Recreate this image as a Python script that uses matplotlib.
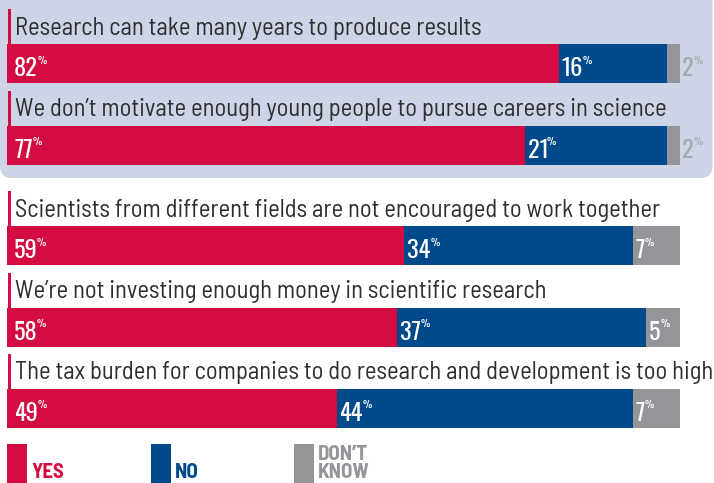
import matplotlib
matplotlib.use("Agg")
import matplotlib.pyplot as plt
from matplotlib.patches import FancyBboxPatch, Rectangle
from matplotlib.textpath import TextPath
from matplotlib.font_manager import FontProperties

# ---- data ----
statements = [
    "Research can take many years to produce results",
    "We don\u2019t motivate enough young people to pursue careers in science",
    "Scientists from different fields are not encouraged to work together",
    "We\u2019re not investing enough money in scientific research",
    "The tax burden for companies to do research and development is too high",
]
yes = [82, 77, 59, 58, 49]
no = [16, 21, 34, 37, 44]
dont_know = [2, 2, 7, 5, 7]
legend_labels = ["YES", "NO", "DON\u2019T\nKNOW"]

# ---- style ----
RED = "#D30C42"
BLUE = "#004A8C"
GRAY = "#939598"
BOX = "#CDD4E6"
TXT = "#2E2E2E"
LABEL_FONT = "Barlow Semi Condensed"
NUM_FONT = "Oswald"
LEG_FONT = "Barlow Semi Condensed"

W, H = 714, 483
fig = plt.figure(figsize=(W / 100, H / 100), dpi=100)
PX0, PX100 = 7, 680          # pixel x of 0% and 100%
scale = (PX100 - PX0) / 100.0
ax = fig.add_axes([0, 0, 1, 1])
ax.set_xlim(-PX0 / scale, (W - PX0) / scale)
ax.set_ylim(H, 0)
ax.axis("off")
ax.patch.set_visible(False)

def px(v):  # pixel offset -> data units in x
    return v / scale

# highlighted box behind the first two statements (display coords)
box = FancyBboxPatch((0, H - 178), W - 1.5, 200, boxstyle="round,pad=0,rounding_size=12",
                     transform=None, facecolor=BOX, edgecolor="none", zorder=-5)
fig.patches.append(box)

bar_h = 39
step, gap = 81.5, 19
ys = [63.5 + step * i + (gap if i >= 2 else 0) for i in range(len(statements))]

ax.barh(ys, yes, height=bar_h, color=RED, zorder=2)
ax.barh(ys, no, left=yes, height=bar_h, color=BLUE, zorder=2)
left_dk = [a + b for a, b in zip(yes, no)]
ax.barh(ys, dont_know, left=left_dk, height=bar_h, color=GRAY, zorder=2)

NUM_SIZE = 17.5
PCT_SIZE = 7.5
DIGIT_H = 21
num_prop = FontProperties(family=NUM_FONT, weight="medium", size=NUM_SIZE)
pct_prop = FontProperties(family=NUM_FONT, size=PCT_SIZE)
pct_lb = TextPath((0, 0), "%", prop=pct_prop).get_extents().x0 * 100 / 72

def pct_label(x, y, value, color):
    s = f"{value}"
    ext = TextPath((0, 0), s, prop=num_prop).get_extents()
    ink_l = ext.x0 * 100 / 72
    ink_r = ext.x1 * 100 / 72
    x_text = round(x * scale) / scale - px(ink_l)
    ax.text(x_text, y, s, color=color, fontproperties=num_prop,
            ha="left", va="baseline", zorder=3)
    ax.text(x_text + px(ink_r + 1.0 - pct_lb), y - DIGIT_H + 0.5, "%", color=color,
            fontproperties=pct_prop, ha="left", va="top", zorder=3)

for i, (s, y) in enumerate(zip(statements, ys)):
    top = y - bar_h / 2
    ax.text(px(8), top - 9.5, s, color=TXT, fontsize=17.7, family=LABEL_FONT,
            ha="left", va="baseline", zorder=3)
    ax.add_patch(Rectangle((px(1), top - 35), px(3), 35, facecolor=RED,
                           edgecolor="none", zorder=3))
    base = y + 12.5
    pct_label(px(8), base, yes[i], "white")
    pct_label(yes[i] + px(3.5), base, no[i], "white")
    if dont_know[i] >= 4:
        pct_label(left_dk[i] + px(3.5), base, dont_know[i], "white")
    else:
        pct_label(100 + px(3), base, dont_know[i], "#A7A9AC")

# legend
leg_colors = [RED, BLUE, GRAY]
leg_x = [7, 151, 294]
for lab, c, lx in zip(legend_labels, leg_colors, leg_x):
    ax.add_patch(Rectangle(((lx - PX0) / scale, 444), px(20), 40, facecolor=c,
                           edgecolor="none", zorder=3, clip_on=False))
    ax.text((lx - PX0 + 24) / scale, 482.5, lab, color=c, fontsize=15, family=LEG_FONT,
            fontweight="bold", ha="left", va="bottom", linespacing=0.95, zorder=3)

fig.savefig("out.png", dpi=100, facecolor="white")
